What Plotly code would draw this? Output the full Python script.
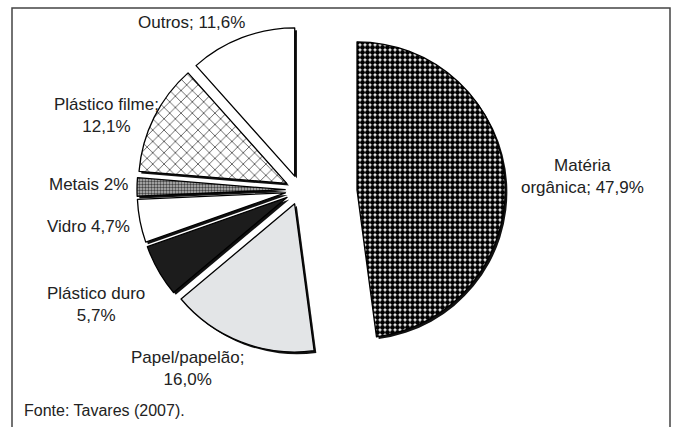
import plotly.graph_objects as go

# Composição gravimétrica dos resíduos (%), em sentido horário a partir das 12h
categorias = ["Matéria orgânica", "Papel/papelão", "Plástico duro", "Vidro",
              "Metais", "Plástico filme", "Outros"]
valores = [47.9, 16.0, 5.7, 4.7, 2.0, 12.1, 11.6]
casas_decimais = [1, 1, 1, 1, 0, 1, 1]
rotulos_modelo = ["Matéria<br>orgânica; {}", "Papel/papelão;<br>{}",
                  "Plástico duro<br>{}", "Vidro {}", "Metais {}",
                  "Plástico filme;<br>{}", "Outros; {}"]
fonte = "Fonte: Tavares (2007)."

W, H = 673, 427
FONT = "Liberation Sans, Arial, sans-serif"

# preenchimentos de cada fatia
cores_fundo = ["white", "#e3e5e7", "#1c1c1c", "white", "#bdbdbd", "white", "white"]
padroes = [".", "", "", "", ".", "x", ""]
cores_padrao = ["black", "black", "black", "black", "#444444", "black", "black"]
tam_padrao = [5, 8, 8, 8, 3, 8, 8]
solidez = [0.75, 0.3, 0.3, 0.3, 0.5, 0.14, 0.3]


def fmt(v, d):
    return f"{v:.{d}f}".replace(".", ",") + "%"


rotulos = [m.format(fmt(v, d)) for m, v, d in zip(rotulos_modelo, valores, casas_decimais)]

transp = "rgba(0,0,0,0)"
n = len(valores)

# pizza principal: fatias da esquerda levemente destacadas
cx, cy, lado = 300, 190, 326
dom_x = [(cx - lado / 2) / W, (cx + lado / 2) / W]
dom_y = [1 - (cy + lado / 2) / H, 1 - (cy - lado / 2) / H]
desloc_org = 57 / W  # a matéria orgânica é afastada para a direita
sombra = (2.2 / W, 2.2 / H)  # deslocamento da sombra sob cada fatia

fig = go.Figure()
for camada in ("sombra", "fatia"):
    for grupo in ("resto", "organica"):
        vis = [(i == 0) == (grupo == "organica") for i in range(n)]
        dx = desloc_org if grupo == "organica" else 0
        dy = 0
        if camada == "sombra":
            dx += sombra[0]
            dy -= sombra[1]
            cores = ["#111111" if v else transp for v in vis]
            marcador = dict(colors=cores, line=dict(color=transp, width=0))
        else:
            marcador = dict(
                colors=[c if v else transp for c, v in zip(cores_fundo, vis)],
                line=dict(color="black", width=[1.3 if v else 0 for v in vis]),
                pattern=dict(
                    shape=[p if v else "" for p, v in zip(padroes, vis)],
                    fgcolor=[c if v else transp for c, v in zip(cores_padrao, vis)],
                    bgcolor=[c if v else transp for c, v in zip(cores_fundo, vis)],
                    size=tam_padrao,
                    solidity=solidez,
                ),
            )
        fig.add_trace(go.Pie(
            labels=categorias,
            values=valores,
            sort=False,
            direction="clockwise",
            rotation=0,
            pull=[0.0] + [0.1] * (n - 1),
            textinfo="none",
            hoverinfo="label+percent" if camada == "fatia" else "skip",
            showlegend=False,
            domain=dict(x=[dom_x[0] + dx, dom_x[1] + dx],
                        y=[dom_y[0] + dy, dom_y[1] + dy]),
            marker=marcador,
        ))

# posições dos rótulos (px)
pos_rotulos = [(582, 176), (187, 368), (96, 304), (88, 226), (88, 184), (106, 115), (191, 23)]
anots = []
for txt, (x, y) in zip(rotulos, pos_rotulos):
    anots.append(dict(x=x / W, y=1 - y / H, xref="paper", yref="paper", text=txt,
                      showarrow=False, align="center", xanchor="center", yanchor="middle",
                      font=dict(family=FONT, size=17, color="#222222")))
anots.append(dict(x=22 / W, y=1 - 410 / H, xref="paper", yref="paper", text=fonte,
                  showarrow=False, xanchor="left", yanchor="middle",
                  font=dict(family=FONT, size=16, color="#222222")))

fig.update_layout(
    width=W, height=H,
    margin=dict(l=0, r=0, t=0, b=0),
    paper_bgcolor="white",
    plot_bgcolor="white",
    annotations=anots,
    shapes=[dict(type="rect", xref="paper", yref="paper",
                 x0=12 / W, x1=670 / W, y0=-0.2, y1=1 - 8 / H,
                 line=dict(color="#444444", width=1.5))],
)

fig.write_html("out.html")
